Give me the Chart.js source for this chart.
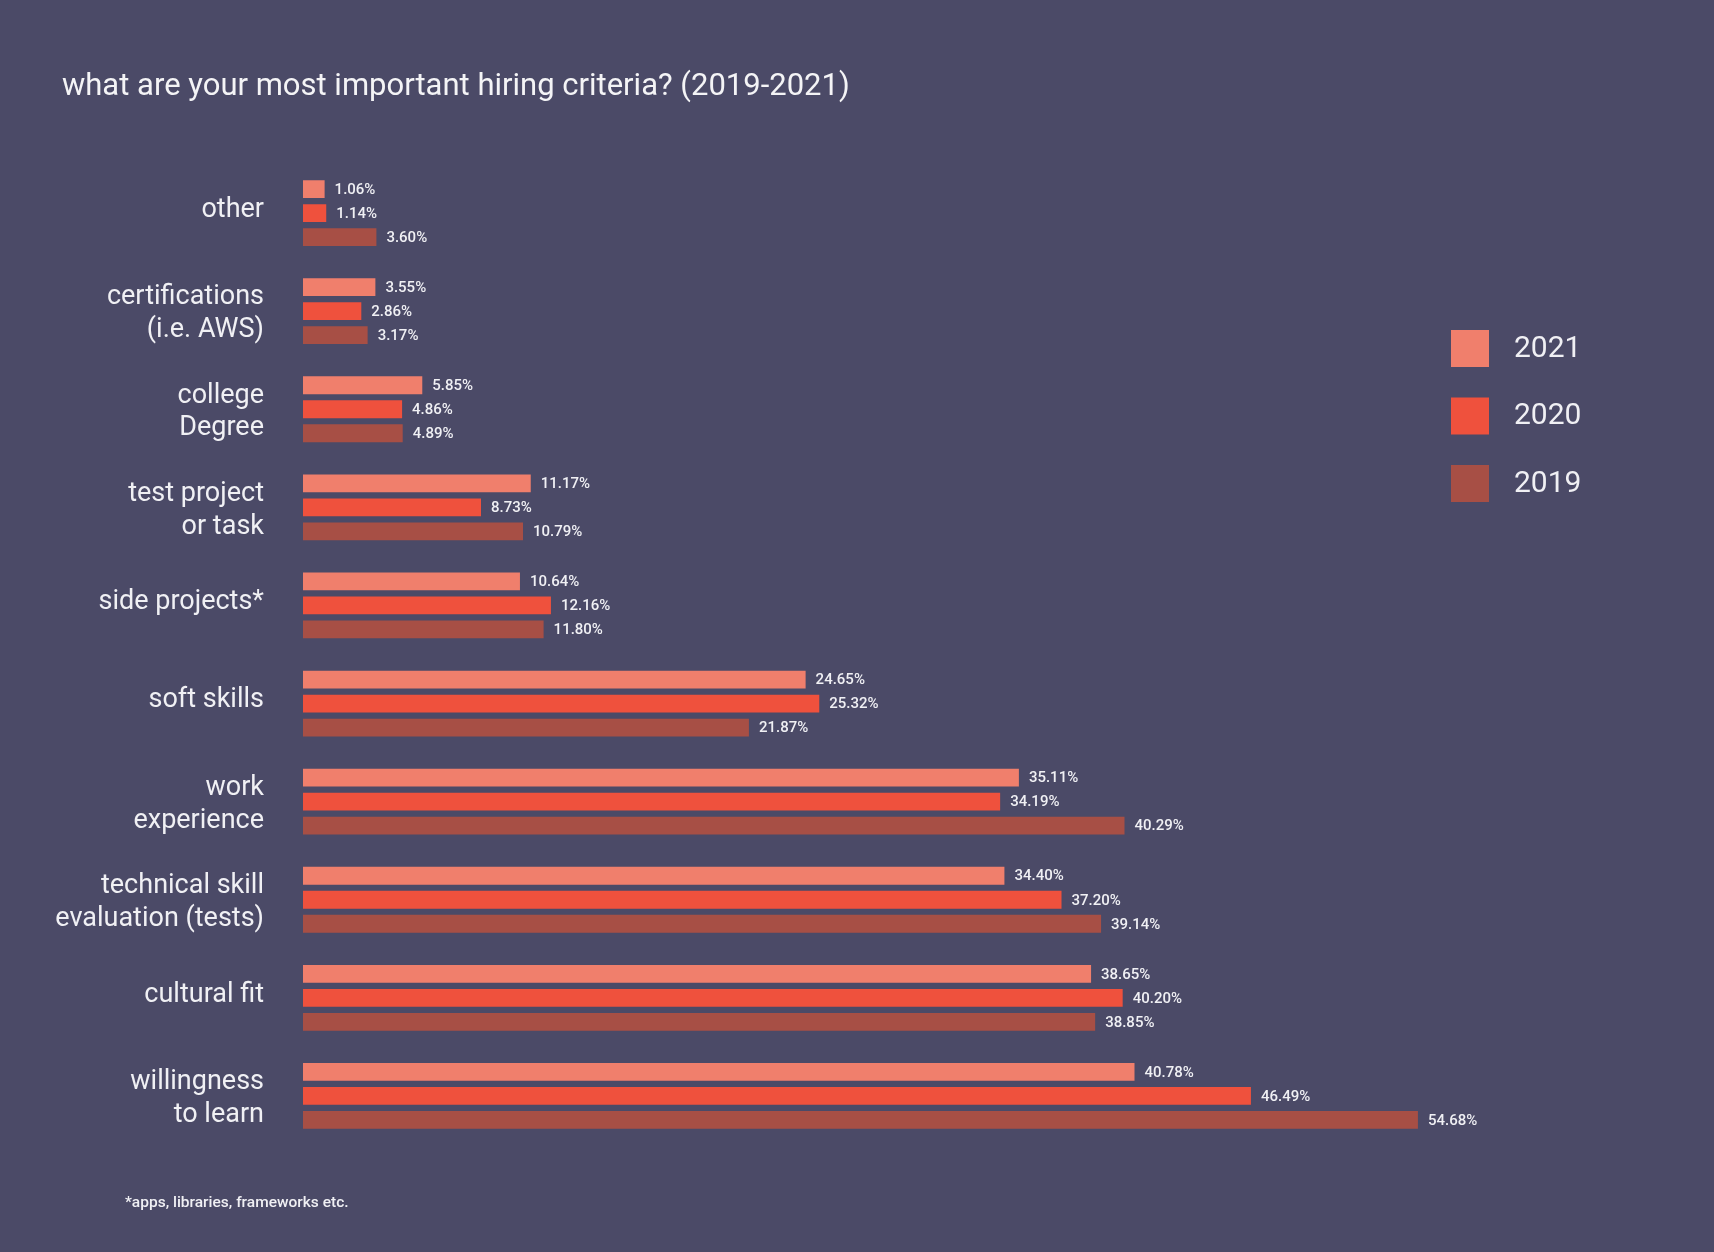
<!DOCTYPE html>
<html>
<head>
<meta charset="utf-8">
<script src="https://cdn.jsdelivr.net/npm/chart.js@4.4.1/dist/chart.umd.min.js"></script>
<style>
  html, body { margin: 0; padding: 0; background: #4b4a67; }
  #wrap { position: relative; width: 1714px; height: 1252px; overflow: hidden; }
  #chart { position: absolute; left: 0; top: 0; }
  .title { position: absolute; left: 62px; top: 65px; font-family: Roboto, sans-serif; font-size: 31px; line-height: 40px; color: #f4f4f6; white-space: nowrap; }
  .note { position: absolute; left: 125px; top: 1193px; font-family: Roboto, sans-serif; font-weight: 500; font-size: 15.5px; color: #f0f0f4; white-space: nowrap; }
</style>
</head>
<body>
<div id="wrap">
  <canvas id="chart" width="1714" height="1252"></canvas>
  <div class="title">what are your most important hiring criteria? (2019-2021)</div>
  <div class="note">*apps, libraries, frameworks etc.</div>
</div>
<script>
const categories = [
  "other",
  ["certifications", "(i.e. AWS)"],
  ["college", "Degree"],
  ["test project", "or task"],
  "side projects*",
  "soft skills",
  ["work", "experience"],
  ["technical skill", "evaluation (tests)"],
  "cultural fit",
  ["willingness", "to learn"]
];
const seriesLabels = ["2021", "2020", "2019"];
const values2021 = [1.06, 3.55, 5.85, 11.17, 10.64, 24.65, 35.11, 34.40, 38.65, 40.78];
const values2020 = [1.14, 2.86, 4.86, 8.73, 12.16, 25.32, 34.19, 37.20, 40.20, 46.49];
const values2019 = [3.60, 3.17, 4.89, 10.79, 11.80, 21.87, 40.29, 39.14, 38.85, 54.68];
const seriesColors = ["#f07f6c", "#ef513d", "#a74f45"];

const TEXT = "#f0f0f4";

const valueLabels = {
  id: "valueLabels",
  afterDatasetsDraw(chart) {
    const ctx = chart.ctx;
    ctx.save();
    ctx.font = "500 15px Roboto, sans-serif";
    ctx.fillStyle = TEXT;
    ctx.textAlign = "left";
    ctx.textBaseline = "middle";
    chart.data.datasets.forEach((ds, di) => {
      const meta = chart.getDatasetMeta(di);
      meta.data.forEach((bar, i) => {
        ctx.fillText(ds.data[i].toFixed(2) + "%", bar.x + 10, bar.y + 1);
      });
    });
    ctx.restore();
  }
};

// multi-line category labels sit a little lower than single-line ones in the reference
const labelNudge = {
  id: "labelNudge",
  beforeDraw(chart) {
    const s = chart.scales.y;
    if (!s || !s.getLabelItems) return;
    const items = s.getLabelItems();
    (items || []).forEach(it => {
      if (Array.isArray(it.label) && !it._nudged && it.options && it.options.translation) {
        it.options.translation[1] += 6;
        it._nudged = true;
      }
    });
  }
};

const sideLegend = {
  id: "sideLegend",
  afterDraw(chart) {
    const ctx = chart.ctx;
    ctx.save();
    ctx.font = "30px Roboto, sans-serif";
    ctx.textAlign = "left";
    ctx.textBaseline = "middle";
    chart.data.datasets.forEach((ds, i) => {
      const top = 330 + i * 67.5;
      ctx.fillStyle = ds.backgroundColor;
      ctx.fillRect(1451, top, 38, 37);
      ctx.fillStyle = TEXT;
      ctx.fillText(ds.label, 1514, top + 19);
    });
    ctx.restore();
  }
};

new Chart(document.getElementById("chart"), {
  type: "bar",
  data: {
    labels: categories,
    datasets: [
      { label: seriesLabels[0], data: values2021, backgroundColor: seriesColors[0] },
      { label: seriesLabels[1], data: values2020, backgroundColor: seriesColors[1] },
      { label: seriesLabels[2], data: values2019, backgroundColor: seriesColors[2] }
    ]
  },
  options: {
    indexAxis: "y",
    responsive: false,
    animation: false,
    devicePixelRatio: 1,
    categoryPercentage: 0.734,
    barPercentage: 0.74,
    layout: { padding: { top: 164, bottom: 107, left: 0, right: 187.6 } },
    plugins: {
      legend: { display: false },
      tooltip: { enabled: false }
    },
    scales: {
      x: { display: false, min: 0, max: 60 },
      y: {
        grid: { display: false, drawTicks: false },
        border: { display: false },
        ticks: {
          color: TEXT,
          padding: 39,
          labelOffset: -3,
          font: { family: "Roboto", size: 27, lineHeight: 1.22 }
        },
        afterFit(scale) { scale.width = 303; }
      }
    }
  },
  plugins: [labelNudge, valueLabels, sideLegend]
});
</script>
</body>
</html>
